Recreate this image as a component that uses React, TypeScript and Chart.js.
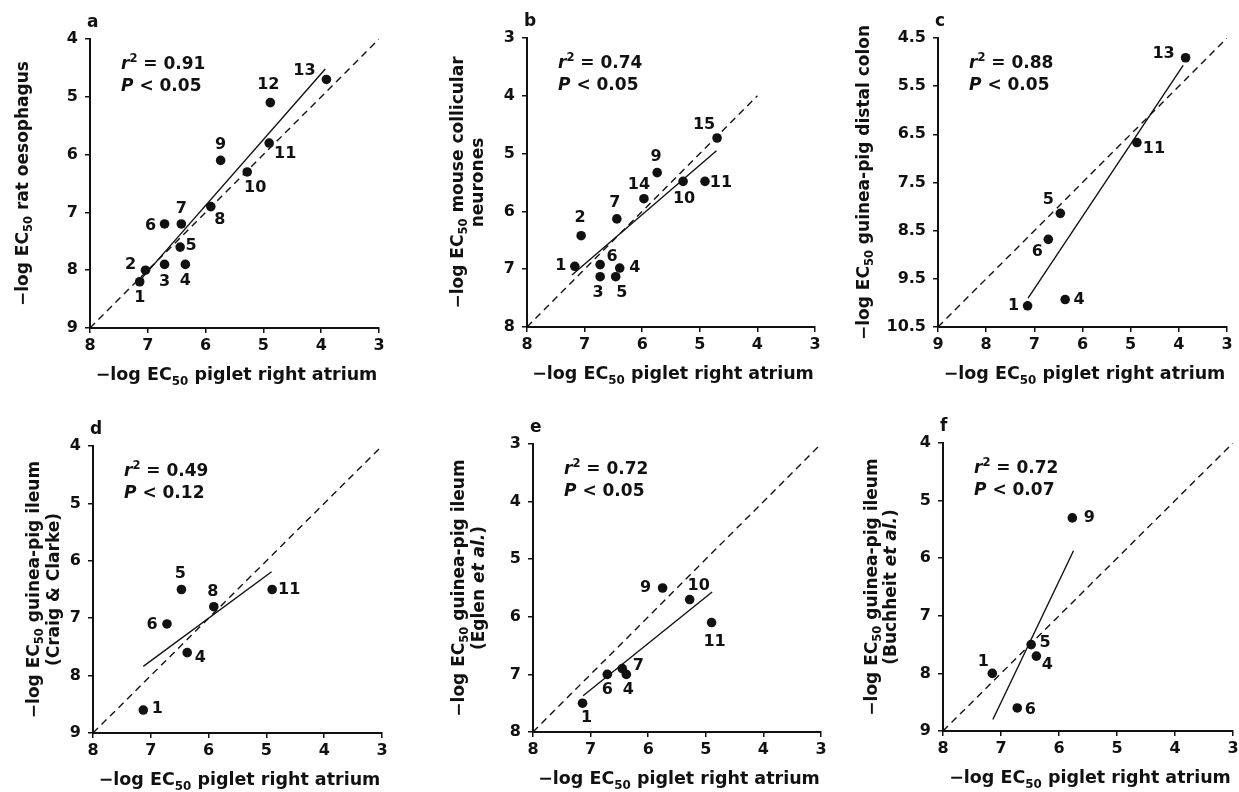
import React, { useEffect, useRef } from 'react';
import { Chart, registerables } from 'chart.js';

Chart.register(...registerables);

const FONT = '"DejaVu Sans", "Liberation Sans", sans-serif';
const INK = '#111111';

// ---------------- Panel a : rat oesophagus ----------------
const aCompounds = ['1', '2', '3', '4', '5', '6', '7', '8', '9', '10', '11', '12', '13'];
const aAtrium = [7.14, 7.04, 6.71, 6.35, 6.44, 6.71, 6.42, 5.91, 5.74, 5.28, 4.9, 4.88, 3.91];
const aTissue = [8.2, 8.0, 7.9, 7.9, 7.6, 7.2, 7.2, 6.9, 6.1, 6.3, 5.8, 5.1, 4.7];
const aFitX = [7.2, 3.93];
const aFitY = [8.25, 4.52];
const aUnityX = [8, 3];
const aUnityY = [9, 4];
const aXTicks = [8, 7, 6, 5, 4, 3];
const aYTicks = [4, 5, 6, 7, 8, 9];
const aR2 = '0.91';
const aP = '0.05';

// ---------------- Panel b : mouse collicular neurones ----------------
const bCompounds = ['1', '2', '3', '4', '5', '6', '7', '9', '10', '11', '14', '15'];
const bAtrium = [7.17, 7.06, 6.73, 6.39, 6.46, 6.73, 6.44, 5.74, 5.29, 4.91, 5.97, 4.7];
const bTissue = [6.95, 6.42, 7.13, 6.98, 7.13, 6.92, 6.13, 5.33, 5.48, 5.48, 5.78, 4.73];
const bFitX = [7.22, 4.71];
const bFitY = [7.1, 4.95];
const bUnityX = [8, 4];
const bUnityY = [8, 4];
const bXTicks = [8, 7, 6, 5, 4, 3];
const bYTicks = [3, 4, 5, 6, 7, 8];
const bR2 = '0.74';
const bP = '0.05';

// ---------------- Panel c : guinea-pig distal colon ----------------
const cCompounds = ['1', '4', '5', '6', '11', '13'];
const cAtrium = [7.14, 6.36, 6.46, 6.71, 4.87, 3.86];
const cTissue = [10.06, 9.93, 8.14, 8.68, 6.67, 4.91];
const cFitX = [7.13, 3.91];
const cFitY = [9.9, 5.07];
const cUnityX = [9, 3];
const cUnityY = [10.5, 4.5];
const cXTicks = [9, 8, 7, 6, 5, 4, 3];
const cYTicks = [4.5, 5.5, 6.5, 7.5, 8.5, 9.5, 10.5];
const cR2 = '0.88';
const cP = '0.05';

// ---------------- Panel d : guinea-pig ileum (Craig & Clarke) ----------------
const dCompounds = ['1', '4', '5', '6', '8', '11'];
const dAtrium = [7.13, 6.37, 6.47, 6.72, 5.91, 4.9];
const dTissue = [8.6, 7.6, 6.5, 7.1, 6.8, 6.5];
const dFitX = [7.13, 4.91];
const dFitY = [7.84, 6.19];
const dUnityX = [8, 3];
const dUnityY = [9, 4];
const dXTicks = [8, 7, 6, 5, 4, 3];
const dYTicks = [4, 5, 6, 7, 8, 9];
const dR2 = '0.49';
const dP = '0.12';

// ---------------- Panel e : guinea-pig ileum (Eglen et al.) ----------------
const eCompounds = ['1', '4', '6', '7', '9', '10', '11'];
const eAtrium = [7.14, 6.38, 6.71, 6.45, 5.75, 5.28, 4.9];
const eTissue = [7.5, 7.0, 7.0, 6.9, 5.5, 5.7, 6.1];
const eFitX = [7.13, 4.89];
const eFitY = [7.37, 5.57];
const eUnityX = [8, 3];
const eUnityY = [8, 3];
const eXTicks = [8, 7, 6, 5, 4, 3];
const eYTicks = [3, 4, 5, 6, 7, 8];
const eR2 = '0.72';
const eP = '0.05';

// ---------------- Panel f : guinea-pig ileum (Buchheit et al.) ----------------
const fCompounds = ['1', '4', '5', '6', '9'];
const fAtrium = [7.15, 6.39, 6.48, 6.72, 5.77];
const fTissue = [8.0, 7.7, 7.5, 8.6, 5.3];
const fFitX = [7.14, 5.75];
const fFitY = [8.8, 5.87];
const fUnityX = [8, 3];
const fUnityY = [9, 4];
const fXTicks = [8, 7, 6, 5, 4, 3];
const fYTicks = [4, 5, 6, 7, 8, 9];
const fR2 = '0.72';
const fP = '0.07';

// ---------------- text ----------------
type Seg = { t: string; italic?: boolean; sub?: boolean; sup?: boolean };
const EC = (rest: string): Seg[] => [{ t: '\u2212log EC' }, { t: '50', sub: true }, { t: rest }];
const xTitle: Seg[] = EC(' piglet right atrium');

// label offsets (px) relative to each dot
const aLabelOff = [[0, 16], [-15, -5], [0, 17], [0, 16], [11, -1], [-14, 2], [0, -15], [9, 13], [0, -16], [8, 16], [16, 11], [-2, -18], [-22, -9]];
const bLabelOff = [[-14, 0], [-1, -18], [-2, 16], [15, 0], [6, 16], [12, -8], [-2, -16], [-1, -16], [1, 17], [16, 1], [-5, -14], [-13, -13]];
const cLabelOff = [[-14, 0], [14, 0], [-12, -13], [-11, 13], [17, 6], [-22, -4]];
const dLabelOff = [[14, -1], [13, 5], [-1, -16], [-15, 1], [-1, -15], [17, 0]];
const eLabelOff = [[4, 15], [2, 15], [0, 15], [16, -3], [-17, 0], [9, -14], [3, 19]];
const fLabelOff = [[-9, -12], [11, 9], [14, -2], [13, 2], [17, 0]];

type PanelSpec = {
  letter: string;
  left: number; top: number; w: number; h: number;
  labels: string[]; xs: number[]; ys: number[];
  fitX: number[]; fitY: number[]; unityX: number[]; unityY: number[];
  xTicks: number[]; yTicks: number[];
  r2: string; p: string;
  yTitle: Seg[][]; yTitleOff: number[];
  labelOff: number[][];
};

const panels: PanelSpec[] = [
  { letter: 'a', left: 90, top: 39, w: 289, h: 289, labels: aCompounds, xs: aAtrium, ys: aTissue, fitX: aFitX, fitY: aFitY, unityX: aUnityX, unityY: aUnityY, xTicks: aXTicks, yTicks: aYTicks, r2: aR2, p: aP,
    yTitle: [EC(' rat oesophagus')], yTitleOff: [-68], labelOff: aLabelOff },
  { letter: 'b', left: 527, top: 38, w: 288, h: 289, labels: bCompounds, xs: bAtrium, ys: bTissue, fitX: bFitX, fitY: bFitY, unityX: bUnityX, unityY: bUnityY, xTicks: bXTicks, yTicks: bYTicks, r2: bR2, p: bP,
    yTitle: [EC(' mouse collicular'), [{ t: 'neurones' }]], yTitleOff: [-70, -50], labelOff: bLabelOff },
  { letter: 'c', left: 938, top: 38, w: 289, h: 289, labels: cCompounds, xs: cAtrium, ys: cTissue, fitX: cFitX, fitY: cFitY, unityX: cUnityX, unityY: cUnityY, xTicks: cXTicks, yTicks: cYTicks, r2: cR2, p: cP,
    yTitle: [EC(' guinea-pig distal colon')], yTitleOff: [-75], labelOff: cLabelOff },
  { letter: 'd', left: 93, top: 446, w: 289, h: 287, labels: dCompounds, xs: dAtrium, ys: dTissue, fitX: dFitX, fitY: dFitY, unityX: dUnityX, unityY: dUnityY, xTicks: dXTicks, yTicks: dYTicks, r2: dR2, p: dP,
    yTitle: [EC(' guinea-pig ileum'), [{ t: '(Craig & Clarke)' }]], yTitleOff: [-60, -40], labelOff: dLabelOff },
  { letter: 'e', left: 533, top: 444, w: 288, h: 288, labels: eCompounds, xs: eAtrium, ys: eTissue, fitX: eFitX, fitY: eFitY, unityX: eUnityX, unityY: eUnityY, xTicks: eXTicks, yTicks: eYTicks, r2: eR2, p: eP,
    yTitle: [EC(' guinea-pig ileum'), [{ t: '(Eglen ' }, { t: 'et al.', italic: true }, { t: ')' }]], yTitleOff: [-75, -55], labelOff: eLabelOff },
  { letter: 'f', left: 943, top: 443, w: 290, h: 288, labels: fCompounds, xs: fAtrium, ys: fTissue, fitX: fFitX, fitY: fFitY, unityX: fUnityX, unityY: fUnityY, xTicks: fXTicks, yTicks: fYTicks, r2: fR2, p: fP,
    yTitle: [EC(' guinea-pig ileum'), [{ t: '(Buchheit ' }, { t: 'et al.', italic: true }, { t: ')' }]], yTitleOff: [-72, -53], labelOff: fLabelOff },
];

const Y_BAND = 90;
const X_BAND = 62;
const TOP_PAD = 40;
const RIGHT_PAD = 22;

function drawRich(ctx: CanvasRenderingContext2D, segs: Seg[], x: number, y: number, size: number, align: 'left' | 'center') {
  const fontFor = (s: Seg) => `${s.italic ? 'italic ' : ''}bold ${s.sub || s.sup ? size * 0.68 : size}px ${FONT}`;
  let total = 0;
  for (const s of segs) { ctx.font = fontFor(s); total += ctx.measureText(s.t).width; }
  let cx = align === 'center' ? x - total / 2 : x;
  ctx.textAlign = 'left';
  ctx.textBaseline = 'alphabetic';
  for (const s of segs) {
    ctx.font = fontFor(s);
    const dy = s.sub ? size * 0.26 : s.sup ? -size * 0.42 : 0;
    ctx.fillText(s.t, cx, y + dy);
    cx += ctx.measureText(s.t).width;
  }
}

function Panel({ p }: { p: PanelSpec }) {
  const ref = useRef<HTMLCanvasElement>(null);
  const cw = Y_BAND + p.w + RIGHT_PAD;
  const ch = TOP_PAD + p.h + X_BAND;
  useEffect(() => {
    const overlay = {
      id: 'overlay' + p.letter,
      afterDatasetsDraw(chart: any) {
        const ctx: CanvasRenderingContext2D = chart.ctx;
        const { left, top, right, bottom } = chart.chartArea;
        ctx.save();
        ctx.fillStyle = INK;
        // compound numbers
        const meta = chart.getDatasetMeta(0);
        ctx.font = `bold 16px ${FONT}`;
        ctx.textAlign = 'center';
        ctx.textBaseline = 'middle';
        meta.data.forEach((el: any, i: number) => {
          const [dx, dy] = p.labelOff[i];
          ctx.fillText(p.labels[i], el.x + dx, el.y + dy);
        });
        // statistics
        drawRich(ctx, [{ t: 'r', italic: true }, { t: '2', sup: true }, { t: ' = ' + p.r2 }], left + 31, top + 30, 17, 'left');
        drawRich(ctx, [{ t: 'P', italic: true }, { t: ' < ' + p.p }], left + 31, top + 52, 17, 'left');
        // panel letter
        ctx.font = `bold 17px ${FONT}`;
        ctx.textAlign = 'left';
        ctx.textBaseline = 'alphabetic';
        ctx.fillText(p.letter, left - 3, top - 12);
        // x title
        drawRich(ctx, xTitle, (left + right) / 2 + 2, bottom + 52, 17.5, 'center');
        // y title
        p.yTitle.forEach((segs, k) => {
          ctx.save();
          ctx.translate(left + p.yTitleOff[k], (top + bottom) / 2);
          ctx.rotate(-Math.PI / 2);
          drawRich(ctx, segs, 0, 6, 17, 'center');
          ctx.restore();
        });
        ctx.restore();
      },
    };

    const tickFont = { family: FONT, size: 16, weight: 'bold' as const };
    const chart = new Chart(ref.current as HTMLCanvasElement, {
      type: 'scatter',
      data: {
        datasets: [
          {
            label: 'compounds',
            data: p.xs.map((x, i) => ({ x, y: p.ys[i] })),
            pointRadius: 4.8,
            pointBackgroundColor: INK,
            pointBorderWidth: 0,
            showLine: false,
          },
          {
            label: 'regression',
            data: p.fitX.map((x, i) => ({ x, y: p.fitY[i] })),
            showLine: true,
            borderColor: INK,
            borderWidth: 1.4,
            pointRadius: 0,
          },
          {
            label: 'unity',
            data: p.unityX.map((x, i) => ({ x, y: p.unityY[i] })),
            showLine: true,
            borderColor: INK,
            borderWidth: 1.4,
            borderDash: [7, 5],
            pointRadius: 0,
          },
        ],
      },
      options: {
        animation: false,
        responsive: false,
        devicePixelRatio: 1,
        layout: { padding: { left: 0, top: TOP_PAD, right: RIGHT_PAD, bottom: 0 } },
        plugins: { legend: { display: false }, tooltip: { enabled: false }, title: { display: false } },
        scales: {
          x: {
            type: 'linear',
            reverse: true,
            min: Math.min(...p.xTicks),
            max: Math.max(...p.xTicks),
            afterBuildTicks: (s: any) => { s.ticks = p.xTicks.map((v) => ({ value: v })); },
            afterFit: (s: any) => { s.height = X_BAND; },
            ticks: { callback: (v: any) => String(v), font: tickFont, color: INK, padding: 3, maxRotation: 0, autoSkip: false },
            grid: { drawOnChartArea: false, drawTicks: true, tickLength: 5, color: INK, lineWidth: 1.5 },
            border: { display: true, color: INK, width: 2 },
          },
          y: {
            type: 'linear',
            reverse: true,
            min: Math.min(...p.yTicks),
            max: Math.max(...p.yTicks),
            afterBuildTicks: (s: any) => { s.ticks = p.yTicks.map((v) => ({ value: v })); },
            afterFit: (s: any) => { s.width = Y_BAND; },
            ticks: { callback: (v: any) => String(v), font: tickFont, color: INK, padding: 7, autoSkip: false },
            grid: { drawOnChartArea: false, drawTicks: true, tickLength: 5, color: INK, lineWidth: 1.5 },
            border: { display: true, color: INK, width: 2 },
          },
        },
      },
      plugins: [overlay],
    } as any);
    return () => chart.destroy();
  }, [p]);
  return (
    <canvas
      ref={ref}
      width={cw}
      height={ch}
      style={{ position: 'absolute', left: p.left - Y_BAND, top: p.top - TOP_PAD, width: cw, height: ch }}
    />
  );
}

export default function App() {
  return (
    <div style={{ position: 'absolute', left: 0, top: 0, width: 1239, height: 792, background: '#fff', overflow: 'hidden' }}>
      {panels.map((p) => (
        <Panel key={p.letter} p={p} />
      ))}
    </div>
  );
}
